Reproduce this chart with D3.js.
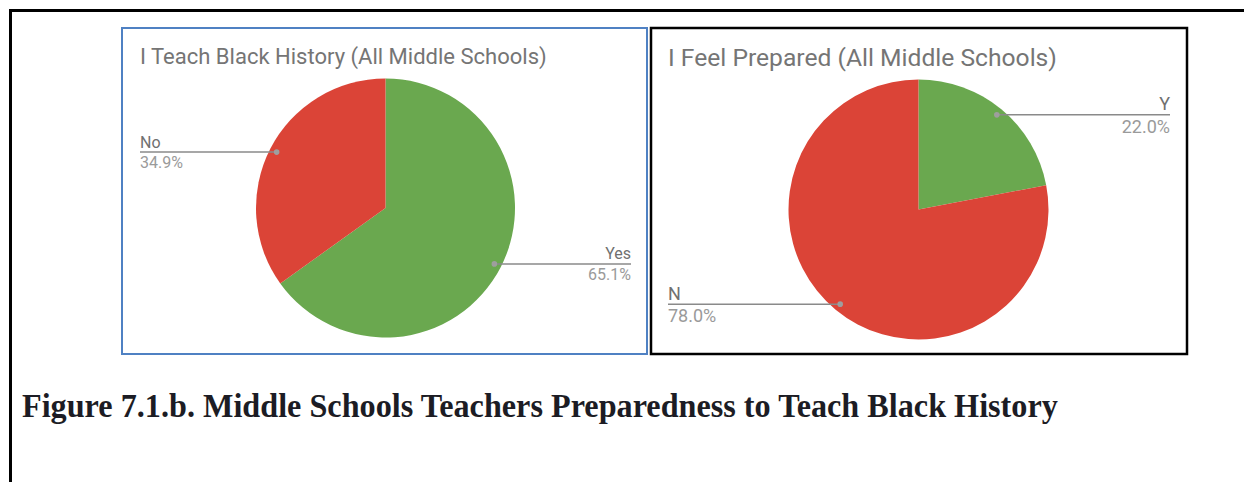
<!DOCTYPE html>
<html>
<head>
<meta charset="utf-8">
<script src="https://cdn.jsdelivr.net/npm/d3@7/dist/d3.min.js"></script>
<style>
  html, body { margin: 0; padding: 0; background: #ffffff; }
  svg { display: block; }
</style>
</head>
<body>
<svg id="fig" width="1244" height="482"></svg>
<script>
// Survey results: middle school teachers
const teachCategories = ["Yes", "No"];
const teachValues = [65.1, 34.9];
const preparedCategories = ["Y", "N"];
const preparedValues = [22.0, 78.0];
const sliceColors = ["#6aa84f", "#db4437"];

const titles = [
  "I Teach Black History (All Middle Schools)",
  "I Feel Prepared (All Middle Schools)"
];
const caption = "Figure 7.1.b. Middle Schools Teachers Preparedness to Teach Black History";

const svg = d3.select("#fig");

// page frame (top and left rule)
svg.append("line").attr("x1", 10.5).attr("y1", 10.5).attr("x2", 1244).attr("y2", 10.5)
  .attr("stroke", "#000").attr("stroke-width", 3);
svg.append("line").attr("x1", 10.5).attr("y1", 9).attr("x2", 10.5).attr("y2", 482)
  .attr("stroke", "#000").attr("stroke-width", 3);

// fit a text element to a given width by scaling its font size
function fitWidth(sel, width) {
  const node = sel.node();
  const fs = parseFloat(sel.attr("font-size"));
  const w = node.getComputedTextLength();
  sel.attr("font-size", (fs * width / w).toFixed(2));
}

const panels = [
  {
    cats: teachCategories, vals: teachValues, title: titles[0],
    box: [122, 28, 647, 354], border: "#4f81c3", borderW: 2,
    cx: 385.5, cy: 208, r: 129.5,
    titleX: 140, titleY: 64, titleW: 407, labelSize: 16,
    labelLeft: 140, labelRight: 631
  },
  {
    cats: preparedCategories, vals: preparedValues, title: titles[1],
    box: [651, 28, 1187, 354], border: "#000000", borderW: 2.5,
    cx: 918.5, cy: 209.5, r: 130,
    titleX: 668, titleY: 66, titleW: 389, labelSize: 18,
    labelLeft: 668, labelRight: 1170
  }
];

panels.forEach(p => {
  const g = svg.append("g");
  const [x0, y0, x1, y1] = p.box;
  g.append("rect")
    .attr("x", x0).attr("y", y0).attr("width", x1 - x0).attr("height", y1 - y0)
    .attr("fill", "#fff").attr("stroke", p.border).attr("stroke-width", p.borderW);

  const t = g.append("text")
    .attr("x", p.titleX).attr("y", p.titleY)
    .attr("font-family", "Roboto, sans-serif").attr("font-size", 21)
    .attr("fill", "#757575")
    .text(p.title);
  fitWidth(t, p.titleW);

  const data = p.cats.map((c, i) => ({ cat: c, val: p.vals[i], color: sliceColors[i] }));
  const pie = d3.pie().value(d => d.val).sort(null);
  const arcs = pie(data);
  const arc = d3.arc().innerRadius(0).outerRadius(p.r);
  const dotArc = d3.arc().innerRadius(p.r * 0.945).outerRadius(p.r * 0.945);

  const pg = g.append("g").attr("transform", `translate(${p.cx},${p.cy})`);
  pg.selectAll("path.slice").data(arcs).join("path")
    .attr("class", "slice")
    .attr("d", arc)
    .attr("fill", d => d.data.color);

  arcs.forEach(a => {
    const [dx, dy] = dotArc.centroid(a);
    const px = p.cx + dx, py = p.cy + dy;
    const right = dx > 0;
    const endX = right ? p.labelRight : p.labelLeft;
    g.append("line")
      .attr("x1", px).attr("y1", py).attr("x2", endX).attr("y2", py)
      .attr("stroke", "#8a8a8a").attr("stroke-width", 1.5);
    g.append("circle").attr("cx", px).attr("cy", py).attr("r", 2.8).attr("fill", "#9e9e9e");
    g.append("text")
      .attr("x", endX).attr("y", py - 4.5)
      .attr("text-anchor", right ? "end" : "start")
      .attr("font-family", "Roboto, sans-serif").attr("font-size", p.labelSize)
      .attr("fill", "#707070")
      .text(a.data.cat);
    g.append("text")
      .attr("x", endX).attr("y", py + p.labelSize)
      .attr("text-anchor", right ? "end" : "start")
      .attr("font-family", "Roboto, sans-serif").attr("font-size", p.labelSize)
      .attr("fill", "#9a9a9a")
      .text(d3.format(".1f")(a.data.val) + "%");
  });
});

// figure caption: tall, narrow serif set to the caption width
const capX = 22, capW = 1036;
const cap = svg.append("text")
  .attr("x", 0).attr("y", 0)
  .attr("font-family", "'Liberation Serif', 'Times New Roman', serif")
  .attr("font-weight", "bold").attr("font-size", 34)
  .attr("fill", "#1c1c24")
  .text(caption);
const capLen = cap.node().getComputedTextLength();
cap.attr("transform", `translate(${capX},417) scale(${capW / capLen},1)`);
</script>
</body>
</html>
